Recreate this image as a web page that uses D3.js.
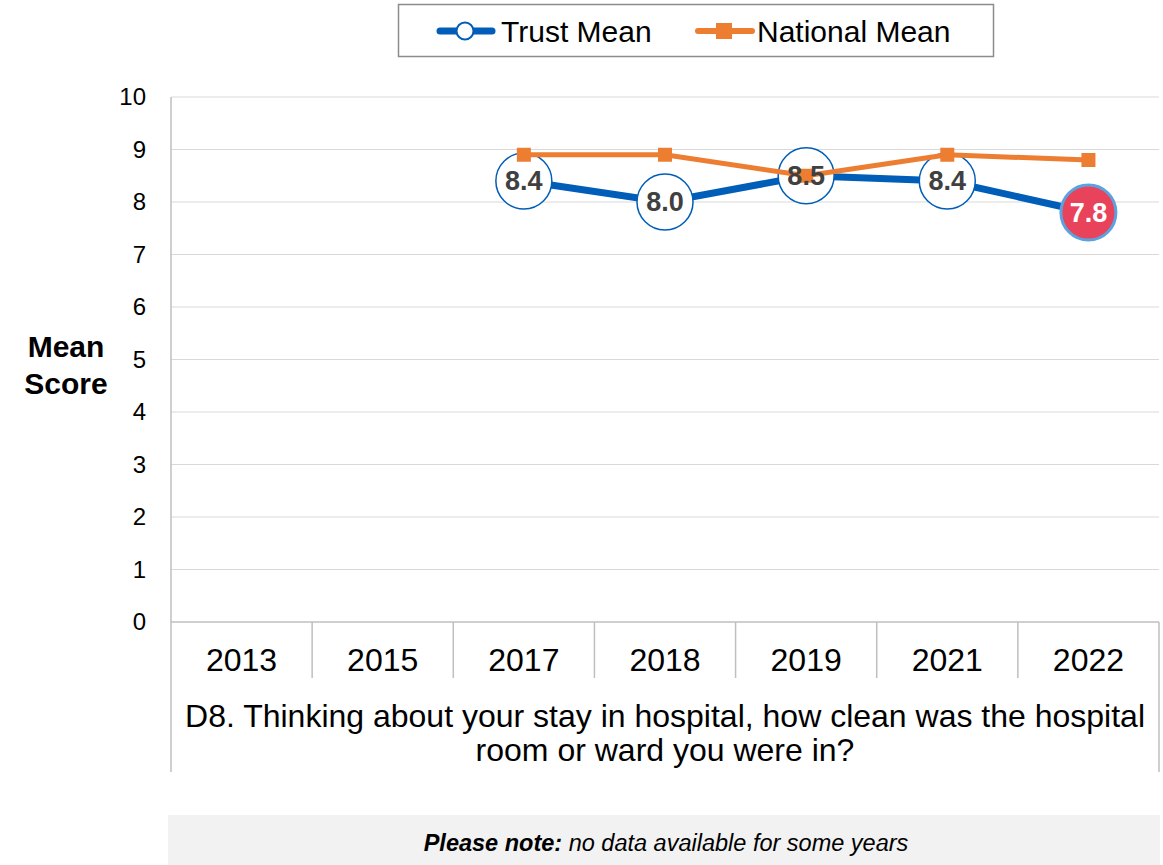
<!DOCTYPE html>
<html>
<head>
<meta charset="utf-8">
<script src="https://cdnjs.cloudflare.com/ajax/libs/d3/7.8.5/d3.min.js"></script>
<style>
  body { margin: 0; background: #fff; }
  svg { font-family: Arial, "Liberation Sans", sans-serif; }
</style>
</head>
<body>
<div id="chart"></div>
<script>
// chart values
var years = [ '2013', '2015', '2017', '2018', '2019', '2021', '2022' ];
var trustMean = [ null, null, 8.4, 8.0, 8.5, 8.4, 7.8 ];
var nationalMean = [ null, null, 8.9, 8.9, 8.5, 8.9, 8.8 ];
var yTicks = [ 0, 1, 2, 3, 4, 5, 6, 7, 8, 9, 10 ];
var questionLines = [ 'D8. Thinking about your stay in hospital, how clean was the hospital', 'room or ward you were in?' ];
var flagged = [ false, false, false, false, false, false, true ];

var width = 1163, height = 865;
var plot = { left: 171, right: 1159, top: 97, bottom: 622 };

var svg = d3.select( '#chart' ).append( 'svg' )
	.attr( 'width', width )
	.attr( 'height', height );

var x = d3.scaleBand()
	.domain( years )
	.range( [ plot.left, plot.right ] );

var y = d3.scaleLinear()
	.domain( [ 0, 10 ] )
	.range( [ plot.bottom, plot.top ] );

// gridlines
svg.append( 'g' )
	.selectAll( 'line' )
	.data( yTicks.slice( 1 ) )
	.join( 'line' )
	.attr( 'x1', plot.left )
	.attr( 'x2', plot.right )
	.attr( 'y1', function ( d ) { return y( d ); } )
	.attr( 'y2', function ( d ) { return y( d ); } )
	.attr( 'stroke', '#d9d9d9' )
	.attr( 'stroke-width', 1.2 );

// y axis
var yAxis = d3.axisLeft( y ).tickValues( yTicks ).tickSize( 0 ).tickPadding( 25 );
var yAxisG = svg.append( 'g' )
	.attr( 'transform', 'translate(' + plot.left + ',0)' )
	.call( yAxis );
yAxisG.select( '.domain' ).remove();
yAxisG.selectAll( 'text' )
	.attr( 'font-size', 24 )
	.attr( 'font-family', 'Arial, "Liberation Sans", sans-serif' )
	.attr( 'fill', '#000' );

// axis frame
var axisColor = '#bfbfbf';
svg.append( 'line' )
	.attr( 'x1', plot.left ).attr( 'x2', plot.left )
	.attr( 'y1', plot.top ).attr( 'y2', 772 )
	.attr( 'stroke', axisColor ).attr( 'stroke-width', 1.5 );
svg.append( 'line' )
	.attr( 'x1', plot.right ).attr( 'x2', plot.right )
	.attr( 'y1', plot.bottom ).attr( 'y2', 772 )
	.attr( 'stroke', axisColor ).attr( 'stroke-width', 1.5 );
svg.append( 'line' )
	.attr( 'x1', plot.left ).attr( 'x2', plot.right )
	.attr( 'y1', plot.bottom ).attr( 'y2', plot.bottom )
	.attr( 'stroke', axisColor ).attr( 'stroke-width', 1.5 );

// category separators
svg.append( 'g' )
	.selectAll( 'line' )
	.data( years.slice( 1 ) )
	.join( 'line' )
	.attr( 'x1', function ( d ) { return x( d ); } )
	.attr( 'x2', function ( d ) { return x( d ); } )
	.attr( 'y1', plot.bottom )
	.attr( 'y2', 678 )
	.attr( 'stroke', axisColor )
	.attr( 'stroke-width', 1.5 );

// category labels
svg.append( 'g' )
	.selectAll( 'text' )
	.data( years )
	.join( 'text' )
	.attr( 'x', function ( d ) { return x( d ) + x.bandwidth() / 2; } )
	.attr( 'y', 671 )
	.attr( 'text-anchor', 'middle' )
	.attr( 'font-size', 32 )
	.text( function ( d ) { return d; } );

// question text
svg.append( 'g' )
	.selectAll( 'text' )
	.data( questionLines )
	.join( 'text' )
	.attr( 'x', ( plot.left + plot.right ) / 2 )
	.attr( 'y', function ( d, i ) { return 727 + i * 34; } )
	.attr( 'text-anchor', 'middle' )
	.attr( 'font-size', 32 )
	.text( function ( d ) { return d; } );

// y title
svg.append( 'text' )
	.attr( 'text-anchor', 'middle' )
	.attr( 'font-size', 30 )
	.attr( 'font-weight', 'bold' )
	.selectAll( 'tspan' )
	.data( [ 'Mean', 'Score' ] )
	.join( 'tspan' )
	.attr( 'x', 66 )
	.attr( 'y', function ( d, i ) { return 357 + i * 37; } )
	.text( function ( d ) { return d; } );

var cx = function ( i ) { return x( years[i] ) + x.bandwidth() / 2; };

var line = d3.line()
	.defined( function ( d ) { return d !== null; } )
	.x( function ( d, i ) { return cx( i ); } )
	.y( function ( d ) { return y( d ); } );

var blue = '#005eb8';
var orange = '#ed7d31';

// trust line
svg.append( 'path' )
	.datum( trustMean )
	.attr( 'd', line )
	.attr( 'fill', 'none' )
	.attr( 'stroke', blue )
	.attr( 'stroke-width', 7 );

// trust markers
var trustPts = trustMean.map( function ( d, i ) { return { v: d, i: i, flag: flagged[i] }; } ).filter( function ( d ) { return d.v !== null; } );
svg.append( 'g' )
	.selectAll( 'circle' )
	.data( trustPts )
	.join( 'circle' )
	.attr( 'cx', function ( d ) { return cx( d.i ); } )
	.attr( 'cy', function ( d ) { return y( d.v ); } )
	.attr( 'r', function ( d ) { return d.flag ? 27.5 : 28; } )
	.attr( 'fill', function ( d ) { return d.flag ? '#e8435a' : '#fff'; } )
	.attr( 'stroke', function ( d ) { return d.flag ? '#5ba3e0' : blue; } )
	.attr( 'stroke-width', function ( d ) { return d.flag ? 3 : 1.5; } );

// national line
svg.append( 'path' )
	.datum( nationalMean )
	.attr( 'd', line )
	.attr( 'fill', 'none' )
	.attr( 'stroke', orange )
	.attr( 'stroke-width', 5 );

var natPts = nationalMean.map( function ( d, i ) { return { v: d, i: i }; } ).filter( function ( d ) { return d.v !== null; } );
svg.append( 'g' )
	.selectAll( 'rect' )
	.data( natPts )
	.join( 'rect' )
	.attr( 'x', function ( d ) { return cx( d.i ) - 7; } )
	.attr( 'y', function ( d ) { return y( d.v ) - 7; } )
	.attr( 'width', 14 )
	.attr( 'height', 14 )
	.attr( 'fill', orange );

// trust labels on top
svg.append( 'g' )
	.selectAll( 'text' )
	.data( trustPts )
	.join( 'text' )
	.attr( 'x', function ( d ) { return cx( d.i ); } )
	.attr( 'y', function ( d ) { return y( d.v ); } )
	.attr( 'text-anchor', 'middle' )
	.attr( 'dy', 9 )
	.attr( 'font-size', 27 )
	.attr( 'font-weight', 'bold' )
	.attr( 'fill', function ( d ) { return d.flag ? '#fff' : '#404040'; } )
	.text( function ( d ) { return d3.format( '.1f' )( d.v ); } );

// legend
var legend = svg.append( 'g' );
legend.append( 'rect' )
	.attr( 'x', 398.5 ).attr( 'y', 4.5 )
	.attr( 'width', 595 ).attr( 'height', 52 )
	.attr( 'fill', '#fff' )
	.attr( 'stroke', '#8c8c8c' )
	.attr( 'stroke-width', 1.5 );

legend.append( 'line' )
	.attr( 'x1', 440 ).attr( 'x2', 492 )
	.attr( 'y1', 31 ).attr( 'y2', 31 )
	.attr( 'stroke', blue ).attr( 'stroke-width', 7 ).attr( 'stroke-linecap', 'round' );
legend.append( 'circle' )
	.attr( 'cx', 465 ).attr( 'cy', 31 ).attr( 'r', 8.5 )
	.attr( 'fill', '#fff' ).attr( 'stroke', blue ).attr( 'stroke-width', 2 );
legend.append( 'text' )
	.attr( 'x', 501 ).attr( 'y', 42 )
	.attr( 'font-size', 30 )
	.text( 'Trust Mean' );

legend.append( 'line' )
	.attr( 'x1', 698 ).attr( 'x2', 752 )
	.attr( 'y1', 31 ).attr( 'y2', 31 )
	.attr( 'stroke', orange ).attr( 'stroke-width', 6 ).attr( 'stroke-linecap', 'round' );
legend.append( 'rect' )
	.attr( 'x', 716 ).attr( 'y', 23 ).attr( 'width', 16 ).attr( 'height', 16 )
	.attr( 'fill', orange );
legend.append( 'text' )
	.attr( 'x', 757 ).attr( 'y', 42 )
	.attr( 'font-size', 30 )
	.text( 'National Mean' );

// note
svg.append( 'rect' )
	.attr( 'x', 168 ).attr( 'y', 815 )
	.attr( 'width', 992 ).attr( 'height', 50 )
	.attr( 'fill', '#f2f2f2' );
var note = svg.append( 'text' )
	.attr( 'x', 666 ).attr( 'y', 851 )
	.attr( 'text-anchor', 'middle' )
	.attr( 'font-size', 23.5 )
	.attr( 'font-style', 'italic' );
note.append( 'tspan' ).attr( 'font-weight', 'bold' ).text( 'Please note:' );
note.append( 'tspan' ).text( ' no data available for some years' );
</script>
</body>
</html>
